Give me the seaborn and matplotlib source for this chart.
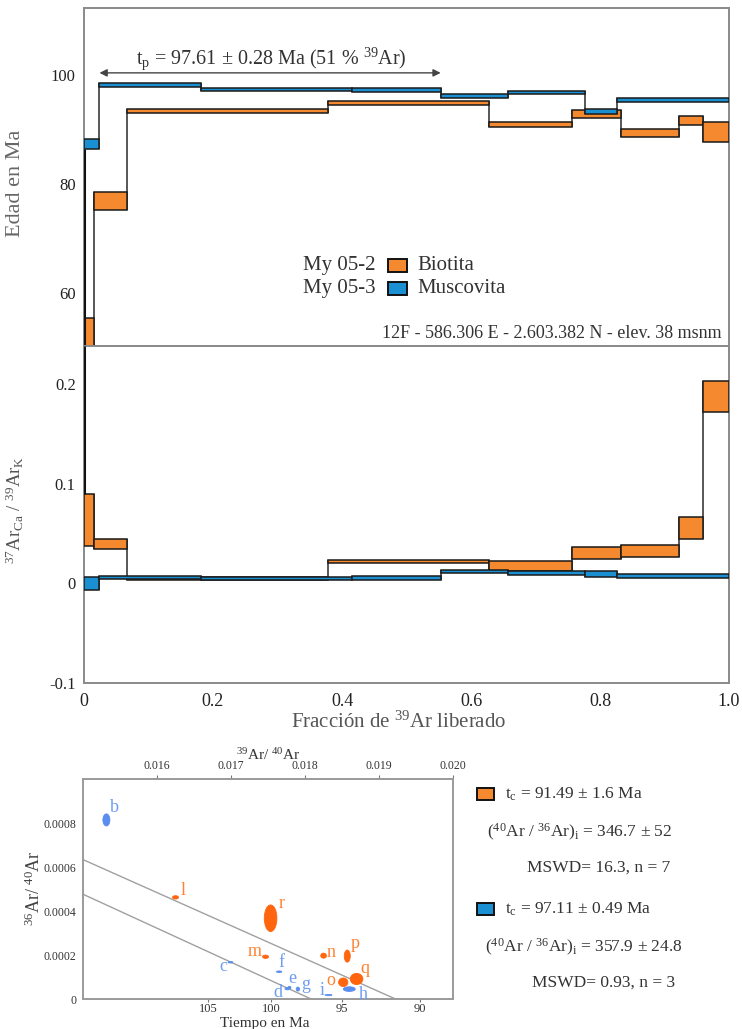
import numpy as np
import pandas as pd
import matplotlib
matplotlib.use('Agg')
import matplotlib.pyplot as plt
import seaborn as sns
from matplotlib.patches import Ellipse, Rectangle
from matplotlib.ticker import MultipleLocator, FixedLocator, FuncFormatter, AutoMinorLocator

# ------------------------------------------------------------------ data
# Age spectra: cumulative fraction of 39Ar released (step boundaries)
bio_frac = [0.0, 0.015, 0.066, 0.378, 0.628, 0.756, 0.833, 0.922, 0.959, 1.0]
bio_age_lo = [48.0, 75.2, 93.1, 94.5, 90.5, 92.2, 88.6, 90.8, 87.8]
bio_age_hi = [55.4, 78.6, 93.8, 95.2, 91.3, 93.5, 90.1, 92.4, 91.4]
bio_cak_lo = [0.037, 0.034, 0.0030, 0.0200, 0.0120, 0.0245, 0.0260, 0.0440, 0.1720]
bio_cak_hi = [0.090, 0.044, 0.0065, 0.0235, 0.0220, 0.0360, 0.0385, 0.0660, 0.2030]

mus_frac = [0.0, 0.024, 0.182, 0.416, 0.553, 0.658, 0.777, 0.826, 1.0]
mus_age_lo = [86.4, 97.9, 97.1, 96.9, 95.7, 96.5, 92.8, 95.1]
mus_age_hi = [88.2, 98.5, 97.7, 97.6, 96.5, 97.1, 93.8, 95.7]
mus_cak_lo = [-0.0064, 0.0044, 0.0037, 0.0034, 0.0100, 0.0084, 0.0060, 0.0054]
mus_cak_hi = [0.0067, 0.0070, 0.0060, 0.0070, 0.0134, 0.0120, 0.0124, 0.0094]

plateau_age, plateau_err, plateau_pct = 97.61, 0.28, 51
plateau_from, plateau_to = 0.024, 0.553

# Inverse isochron (39Ar/40Ar vs 36Ar/40Ar), error ellipses
mus_pt_lab = ['b', 'c', 'd', 'e', 'f', 'g', 'h', 'i']
mus_pt_x = [0.015316, 0.016993, 0.017760, 0.017790, 0.017651, 0.017904, 0.018598, 0.018319]
mus_pt_y = [0.000814, 0.000167, 0.000047, 0.000052, 0.000124, 0.000045, 0.000045, 0.000018]
mus_pt_w = [9.5e-5, 6.3e-5, 6.0e-5, 4.0e-5, 7.2e-5, 4.5e-5, 1.62e-4, 9.0e-5]
mus_pt_h = [5.5e-5, 7e-6, 1.1e-5, 1.1e-5, 7e-6, 1.8e-5, 2.1e-5, 6e-6]

bio_pt_lab = ['l', 'm', 'n', 'o', 'p', 'q', 'r']
bio_pt_x = [0.016250, 0.017467, 0.018251, 0.018517, 0.018571, 0.018697, 0.017535]
bio_pt_y = [0.000462, 0.000192, 0.000197, 0.000076, 0.000195, 0.000091, 0.000367]
bio_pt_w = [8.1e-5, 8.1e-5, 7.7e-5, 1.26e-4, 8.1e-5, 1.71e-4, 1.71e-4]
bio_pt_h = [1.5e-5, 1.5e-5, 2.3e-5, 3.9e-5, 5.5e-5, 5.1e-5, 1.21e-4]

iso_age = [91.49, 97.11]          # bio, mus
iso_age_err = ['1.6', '0.49']
iso_r0 = [346.7, 357.9]
iso_r0_err = ['52', '24.8']
iso_mswd = ['16.3', '0.93']
iso_n = [7, 3]

J_factor = 0.001
lam = 5.543e-10
age_ticks = [105, 100, 95, 90]
ratio_ticks = [0.016, 0.017, 0.018, 0.019, 0.020]

# ------------------------------------------------------------------ style
sns.set_theme(style='white')
plt.rcParams['font.family'] = ['Liberation Serif', 'DejaVu Serif']
plt.rcParams['mathtext.fontset'] = 'custom'
plt.rcParams['mathtext.rm'] = 'Liberation Serif'
plt.rcParams['mathtext.it'] = 'Liberation Serif:italic'
plt.rcParams['mathtext.bf'] = 'Liberation Serif:bold'

C_BIO = '#F4892F'
C_MUS = '#1A8FD2'
C_BIO_PT = '#FF650F'
C_MUS_PT = '#5A8DEE'
C_BIO_TX = '#FF8030'
C_MUS_TX = '#6D9CF2'
SPINE = '#8a8a8a'

W, H = 742, 1029
fig = plt.figure(figsize=(W / 100, H / 100), dpi=100)


def fx(px):
    return px / W


def fy(py):
    return 1 - py / H


ax1 = fig.add_axes([fx(84), fy(346), (729 - 84) / W, (346 - 8) / H])
ax2 = fig.add_axes([fx(84), fy(683), (729 - 84) / W, (683 - 346) / H])
ax3 = fig.add_axes([fx(83), fy(999), (453 - 83) / W, (999 - 779) / H])


def draw_spectrum(ax, frac, lo, hi, color, z):
    frac = np.asarray(frac)
    lo = np.asarray(lo)
    hi = np.asarray(hi)
    for i in range(len(lo) - 1):
        ax.vlines(frac[i + 1], min(lo[i], lo[i + 1]), max(hi[i], hi[i + 1]),
                  color='#2a2a2a', lw=1.1, zorder=z - 0.5)
    ax.bar(frac[:-1], hi - lo, width=np.diff(frac), bottom=lo, align='edge',
           color=color, edgecolor='#1a1a1a', linewidth=1.1, zorder=z)


def style_axis(ax):
    for s in ax.spines.values():
        s.set_color(SPINE)
        s.set_linewidth(1.4)
    ax.tick_params(axis='both', which='major', direction='out', length=4, width=1,
                   color='#555', labelsize=12, labelcolor='#222', pad=2)
    ax.tick_params(axis='both', which='minor', direction='out', length=2.5, width=0.8,
                   color='#777')


# ---------------- top: age spectrum
ax1.set_xlim(0, 1)
ax1.set_ylim(50.3, 112.3)
draw_spectrum(ax1, bio_frac, bio_age_lo, bio_age_hi, C_BIO, 3)
draw_spectrum(ax1, mus_frac, mus_age_lo, mus_age_hi, C_MUS, 4)
ax1.vlines(0, ax1.get_ylim()[0], mus_age_lo[0], color='#111', lw=2.2, zorder=5)
style_axis(ax1)
ax1.yaxis.set_major_locator(FixedLocator([60, 80, 100]))
ax1.yaxis.set_minor_locator(MultipleLocator(5))
ax1.xaxis.set_major_locator(MultipleLocator(0.2))
ax1.xaxis.set_minor_locator(MultipleLocator(0.05))
ax1.tick_params(axis='x', labelbottom=False)
ax1.set_ylabel('Edad en Ma', fontsize=16, color='#666')
ax1.yaxis.set_label_coords(-0.092, 0.48)

ax1.annotate('', xy=(plateau_from, 100.4), xytext=(plateau_to, 100.4),
             arrowprops=dict(arrowstyle='<|-|>', color='#444', lw=1.0,
                             mutation_scale=11, shrinkA=0, shrinkB=0))
ax1.text(0.29, 103.1,
         r'$\mathregular{t_p}$ = %.2f ± %.2f Ma (%d %% $\mathregular{^{39}}$Ar)'
         % (plateau_age, plateau_err, plateau_pct),
         ha='center', va='center', fontsize=14.5, color='#333')

for yy, name, mineral, col in [(0.237, 'My 05-2', 'Biotita', C_BIO),
                               (0.169, 'My 05-3', 'Muscovita', C_MUS)]:
    ax1.text(0.452, yy, name, transform=ax1.transAxes, ha='right', va='center',
             fontsize=15, color='#333')
    ax1.add_patch(Rectangle((0.4706, yy - 0.0195), 0.0294, 0.039, transform=ax1.transAxes,
                            facecolor=col, edgecolor='#111', lw=1.4, zorder=6))
    ax1.text(0.517, yy, mineral, transform=ax1.transAxes, ha='left', va='center',
             fontsize=15, color='#333')
ax1.text(0.989, 0.038, '12F - 586.306 E - 2.603.382 N - elev. 38 msnm',
         transform=ax1.transAxes, ha='right', va='center', fontsize=13, color='#333')

# ---------------- middle: Ca/K
ax2.set_xlim(0, 1)
ax2.set_ylim(-0.1, 0.238)
draw_spectrum(ax2, bio_frac, bio_cak_lo, bio_cak_hi, C_BIO, 3)
draw_spectrum(ax2, mus_frac, mus_cak_lo, mus_cak_hi, C_MUS, 4)
ax2.vlines(0, bio_cak_hi[0], ax2.get_ylim()[1], color='#111', lw=2.2, zorder=5)
style_axis(ax2)
ax2.yaxis.set_major_locator(FixedLocator([-0.1, 0, 0.1, 0.2]))
ax2.yaxis.set_minor_locator(MultipleLocator(0.025))
ax2.yaxis.set_major_formatter(FuncFormatter(lambda v, p: '0' if abs(v) < 1e-9 else '%g' % v))
ax2.xaxis.set_major_locator(MultipleLocator(0.2))
ax2.xaxis.set_minor_locator(MultipleLocator(0.05))
ax2.xaxis.set_major_formatter(FuncFormatter(lambda v, p: '0' if abs(v) < 1e-9 else
                                            ('1.0' if abs(v - 1) < 1e-9 else '%g' % v)))
ax2.tick_params(axis='x', labelsize=13, pad=3)
ax2.set_ylabel(r'$\mathregular{^{37}Ar_{Ca}}$ / $\mathregular{^{39}Ar_{K}}$', fontsize=13.5, color='#555')
ax2.yaxis.set_label_coords(-0.09, 0.513)
ax2.set_xlabel(r'Fracción de $\mathregular{^{39}}$Ar liberado', fontsize=15, color='#555')
ax2.xaxis.set_label_coords(0.488, -0.085)

# ---------------- bottom: inverse isochron
xlim3 = (0.015, 0.020)
ax3.set_xlim(*xlim3)
ax3.set_ylim(0, 0.001)
for t, r0 in zip(iso_age, iso_r0):
    x0 = J_factor / (np.exp(lam * t * 1e6) - 1)
    xs = np.array([xlim3[0], x0])
    line_df = pd.DataFrame({'x': xs, 'y': (1 / r0) * (1 - xs / x0)})
    sns.lineplot(data=line_df, x='x', y='y', ax=ax3, color='#a0a0a0', lw=1.0,
                 zorder=2, legend=False)

lab_off = {'b': (8, 12), 'c': (-7, -4), 'd': (-9, -4), 'e': (3, 9), 'f': (2, 9),
           'g': (8, 5), 'h': (14, -5), 'i': (-6, 5), 'l': (8, 7), 'm': (-11, 5),
           'n': (8, 3), 'o': (-12, 2), 'p': (8, 13), 'q': (8, 10), 'r': (11, 15)}

for labs, xs, ys, ws, hs, fc, tc in [
        (mus_pt_lab, mus_pt_x, mus_pt_y, mus_pt_w, mus_pt_h, C_MUS_PT, C_MUS_TX),
        (bio_pt_lab, bio_pt_x, bio_pt_y, bio_pt_w, bio_pt_h, C_BIO_PT, C_BIO_TX)]:
    for lab, x, y, w, h in zip(labs, xs, ys, ws, hs):
        ax3.add_patch(Ellipse((x, y), w, h, facecolor=fc, edgecolor=fc, lw=0.6, zorder=4))
        dx, dy = lab_off[lab]
        ax3.annotate(lab, (x, y), xytext=(dx * 0.72, dy * 0.72), textcoords='offset points',
                     ha='center', va='center', fontsize=13, color=tc, zorder=5)

for s in ax3.spines.values():
    s.set_color('#9a9a9a')
    s.set_linewidth(1.4)
ax3.set_xlabel('')
ax3.set_ylabel('')
ax3.xaxis.set_ticks_position('top')
ax3.set_xticks(ratio_ticks)
ax3.xaxis.set_major_formatter(FuncFormatter(lambda v, p: '%.3f' % v))
ax3.set_yticks([0, 0.0002, 0.0004, 0.0006, 0.0008])
ax3.yaxis.set_major_formatter(FuncFormatter(lambda v, p: '0' if abs(v) < 1e-12 else '%.4f' % v))
ax3.yaxis.set_minor_locator(AutoMinorLocator(3))
ax3.tick_params(axis='both', which='major', direction='out', length=3, width=0.8,
                color='#777', labelsize=8.5, labelcolor='#333', pad=2)
ax3.tick_params(axis='y', which='minor', direction='out', length=2, width=0.6, color='#888')


def to_age(x):
    x = np.asarray(x, dtype=float)
    with np.errstate(divide='ignore', invalid='ignore'):
        return np.log1p(J_factor / np.clip(x, 1e-6, None)) / lam / 1e6


def to_ratio(t):
    t = np.asarray(t, dtype=float)
    with np.errstate(divide='ignore', invalid='ignore'):
        return J_factor / np.expm1(np.clip(t, 1e-3, None) * 1e6 * lam)


sec = ax3.secondary_xaxis('bottom', functions=(to_age, to_ratio))
sec.set_xticks(age_ticks)
sec.xaxis.set_major_formatter(FuncFormatter(lambda v, p: '%d' % round(v)))
sec.tick_params(direction='out', length=2.5, width=0.8, color='#777', labelsize=9,
                labelcolor='#333', pad=0.5)
sec.spines['bottom'].set_visible(False)

fig.text(fx(268), fy(755), r'$\mathregular{^{39}}$Ar/ $\mathregular{^{40}}$Ar', ha='center',
         va='center', fontsize=11, color='#333')
fig.text(fx(265), fy(1017), 'Tiempo en Ma', ha='center', va='top', fontsize=11, color='#333')
fig.text(fx(34), fy(888), r'$\mathregular{^{36}}$Ar/ $\mathregular{^{40}}$Ar', ha='center',
         va='center', rotation=90, fontsize=13, color='#444')

# legend of isochron results
for i, (col, ysq, y2, y3, x2, x3) in enumerate([(C_BIO, 794, 832, 868, 487, 527),
                                              (C_MUS, 909, 947, 983, 485, 532)]):
    fig.patches.append(Rectangle((fx(477), fy(ysq + 6)), 17 / W, 12 / H, transform=fig.transFigure,
                                 facecolor=col, edgecolor='#111', lw=1.4, figure=fig))
    fig.text(fx(505), fy(ysq), r'$\mathregular{t_c}$ = %.2f ± %s Ma' % (iso_age[i], iso_age_err[i]),
             ha='left', va='center', fontsize=12.5, color='#333')
    fig.text(fx(x2), fy(y2), r'($\mathregular{^{40}}$Ar / $\mathregular{^{36}}$Ar)$\mathregular{_i}$ = %.1f ± %s'
             % (iso_r0[i], iso_r0_err[i]), ha='left', va='center', fontsize=12.5, color='#333')
    fig.text(fx(x3), fy(y3), 'MSWD= %s, n = %d' % (iso_mswd[i], iso_n[i]),
             ha='left', va='center', fontsize=12.5, color='#333')

fig.savefig('out.png', dpi=100)
